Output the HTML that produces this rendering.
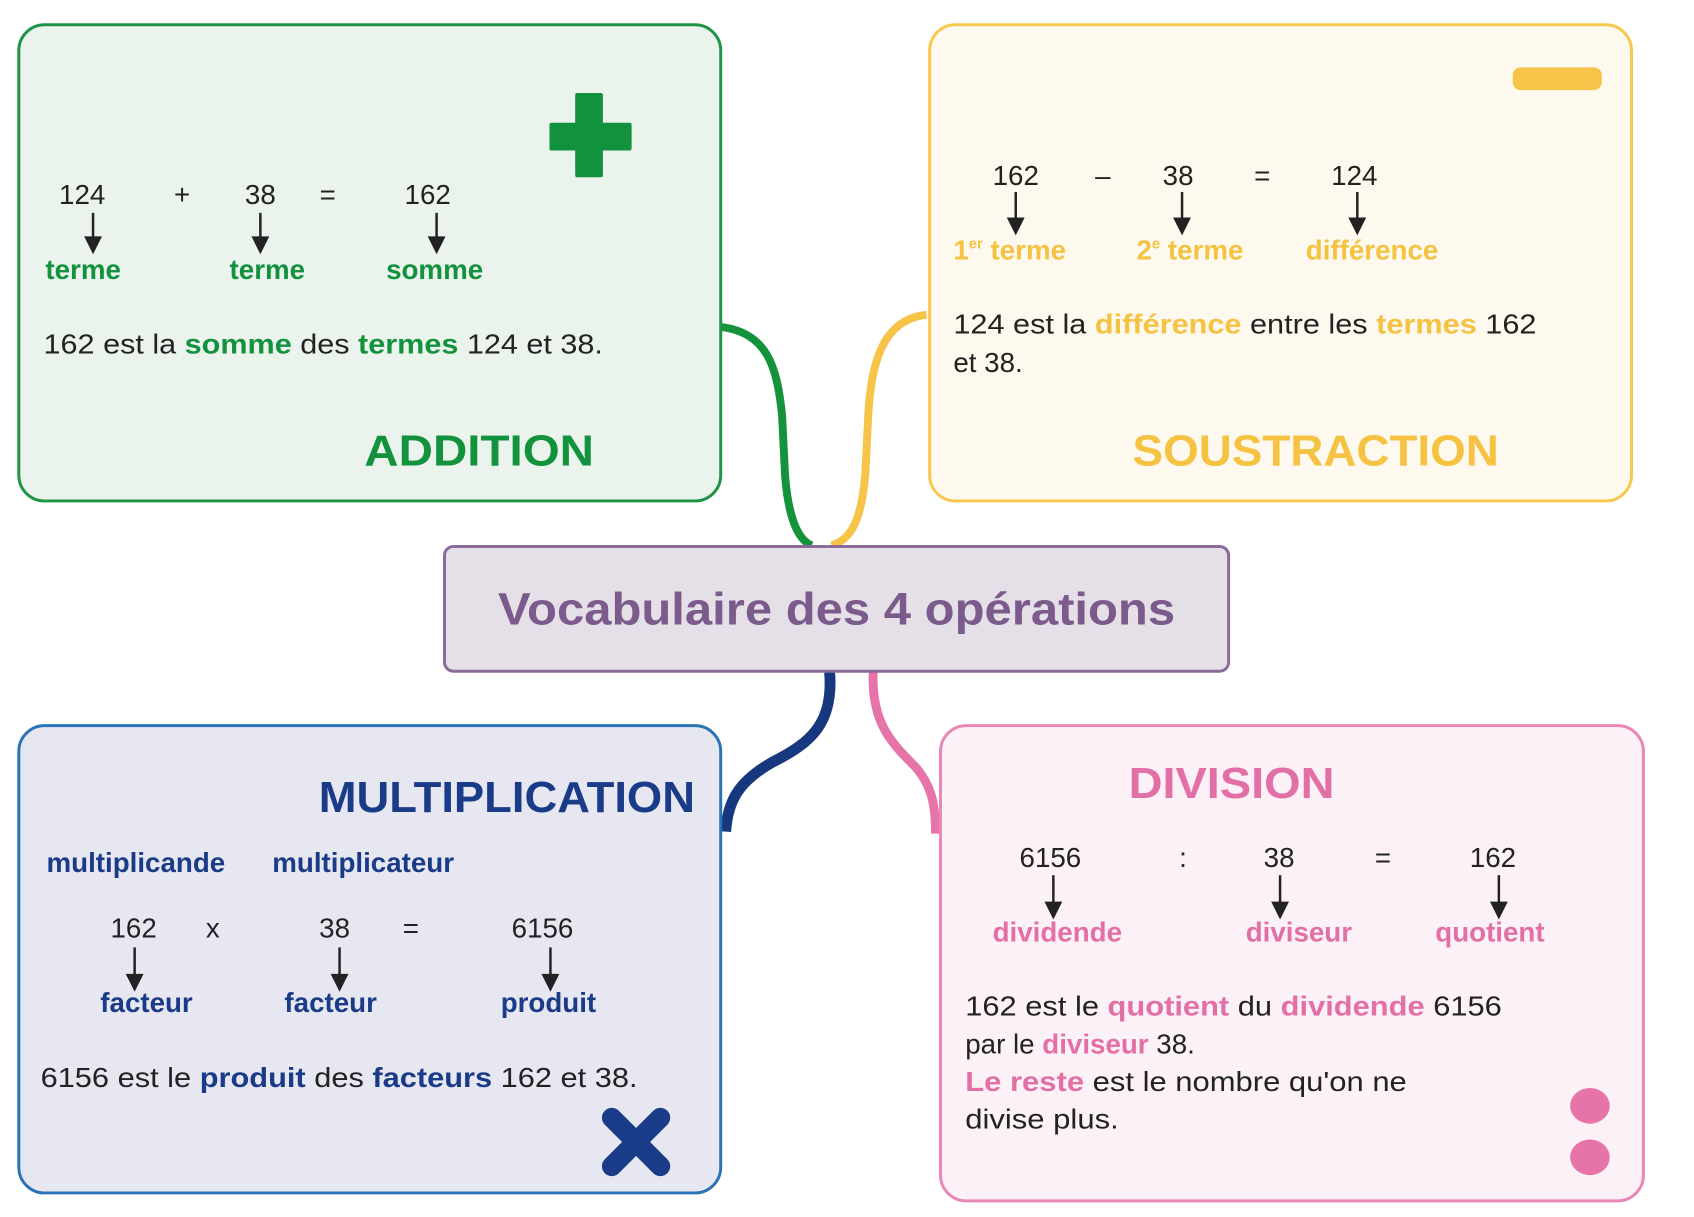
<!DOCTYPE html>
<html><head><meta charset="utf-8"><style>
html,body{margin:0;padding:0;background:#fff;}
svg{display:block;}
text{font-family:"Liberation Sans",sans-serif;}
.n{font-size:28px;fill:#222;}
.b{font-weight:bold;font-size:28px;}
.s{font-size:28px;fill:#222;}
</style></head><body>
<svg width="1694" height="1217" viewBox="0 0 1694 1217" xmlns="http://www.w3.org/2000/svg">
<g transform="scale(0.99)">
<!-- connectors -->
<path d="M726 330 C775 335 785 370 790 420 L793 480 C796 520 805 545 820 551" fill="none" stroke="#14923c" stroke-width="8"/>
<path d="M936 318 C895 322 880 360 877 420 L874 480 C870 525 860 545 840 551" fill="none" stroke="#f7c44a" stroke-width="8"/>
<path d="M838 679 C842 730 820 750 780 770 C745 790 735 810 733 840" fill="none" stroke="#16387f" stroke-width="11"/>
<path d="M882 679 C880 730 900 750 925 775 C942 795 945 815 945 842" fill="none" stroke="#e774a9" stroke-width="9"/>

<!-- boxes -->
<rect x="19" y="25" width="709" height="481" rx="26" fill="#eaf3ec" stroke="#1e9444" stroke-width="3"/>
<rect x="939" y="25" width="709" height="481" rx="26" fill="#fdf9ee" stroke="#f6c94e" stroke-width="3"/>
<rect x="19" y="733" width="709" height="472" rx="26" fill="#e6e7f1" stroke="#2a73b6" stroke-width="3"/>
<rect x="950" y="733" width="710" height="480" rx="26" fill="#fcf1f6" stroke="#e888b6" stroke-width="3"/>
<rect x="449" y="552" width="792" height="126" rx="9" fill="#e5e0e8" stroke="#8b6b9a" stroke-width="3"/>
<text x="845" y="631" text-anchor="middle" font-size="46" font-weight="bold" fill="#7b5a8c" textLength="684" lengthAdjust="spacingAndGlyphs">Vocabulaire des 4 opérations</text>

<!-- ADDITION -->
<path d="M583 96 h24 v30 h29 v24 h-29 v27 h-24 v-27 h-26 v-24 h26z" fill="#13923e" stroke="#13923e" stroke-width="4" stroke-linejoin="round"/>
<g class="n" text-anchor="middle">
<text x="83" y="206">124</text><text x="184" y="206">+</text><text x="263" y="206">38</text><text x="331" y="206">=</text><text x="432" y="206">162</text>
</g>
<g stroke="#222" stroke-width="2.5" fill="#222">
<line x1="94" y1="215" x2="94" y2="244"/><path d="M87 240 L94 254 L101 240z"/>
<line x1="263" y1="215" x2="263" y2="244"/><path d="M256 240 L263 254 L270 240z"/>
<line x1="441" y1="215" x2="441" y2="244"/><path d="M434 240 L441 254 L448 240z"/>
</g>
<g class="b" fill="#13923e" text-anchor="middle">
<text x="84" y="282">terme</text><text x="270" y="282">terme</text><text x="439" y="282">somme</text>
</g>
<text class="s" x="44" y="357" textLength="565" lengthAdjust="spacingAndGlyphs">162 est la <tspan fill="#13923e" font-weight="bold">somme</tspan> des <tspan fill="#13923e" font-weight="bold">termes</tspan> 124 et 38.</text>
<text x="484" y="470" text-anchor="middle" font-size="44" font-weight="bold" fill="#13923e" textLength="232" lengthAdjust="spacingAndGlyphs">ADDITION</text>

<!-- SOUSTRACTION -->
<rect x="1528" y="68" width="90" height="23" rx="8" fill="#f7c44a"/>
<g class="n" text-anchor="middle">
<text x="1026" y="187">162</text><text x="1114" y="187">–</text><text x="1190" y="187">38</text><text x="1275" y="187">=</text><text x="1368" y="187">124</text>
</g>
<g stroke="#222" stroke-width="2.5" fill="#222">
<line x1="1026" y1="194" x2="1026" y2="225"/><path d="M1019 221 L1026 235 L1033 221z"/>
<line x1="1194" y1="194" x2="1194" y2="225"/><path d="M1187 221 L1194 235 L1201 221z"/>
<line x1="1371" y1="194" x2="1371" y2="225"/><path d="M1364 221 L1371 235 L1378 221z"/>
</g>
<g class="b" fill="#f5c242">
<text x="963" y="262">1<tspan font-size="15" dy="-11">er</tspan><tspan dy="11"> terme</tspan></text>
<text x="1148" y="262">2<tspan font-size="15" dy="-11">e</tspan><tspan dy="11"> terme</tspan></text>
<text x="1319" y="262">différence</text>
</g>
<text class="s" x="963" y="337" textLength="589" lengthAdjust="spacingAndGlyphs">124 est la <tspan fill="#f5c242" font-weight="bold">différence</tspan> entre les <tspan fill="#f5c242" font-weight="bold">termes</tspan> 162</text>
<text class="s" x="963" y="376">et 38.</text>
<text x="1329" y="470" text-anchor="middle" font-size="44" font-weight="bold" fill="#f5c242" textLength="370" lengthAdjust="spacingAndGlyphs">SOUSTRACTION</text>

<!-- MULTIPLICATION -->
<text x="702" y="820" text-anchor="end" font-size="44" font-weight="bold" fill="#1a3b87" textLength="380" lengthAdjust="spacingAndGlyphs">MULTIPLICATION</text>
<g class="b" fill="#1a3b87">
<text x="47" y="881">multiplicande</text><text x="275" y="881">multiplicateur</text>
</g>
<g class="n" text-anchor="middle">
<text x="135" y="947">162</text><text x="215" y="947">x</text><text x="338" y="947">38</text><text x="415" y="947">=</text><text x="548" y="947">6156</text>
</g>
<g stroke="#222" stroke-width="2.5" fill="#222">
<line x1="136" y1="957" x2="136" y2="989"/><path d="M129 985 L136 999 L143 985z"/>
<line x1="343" y1="957" x2="343" y2="989"/><path d="M336 985 L343 999 L350 985z"/>
<line x1="556" y1="957" x2="556" y2="989"/><path d="M549 985 L556 999 L563 985z"/>
</g>
<g class="b" fill="#1a3b87" text-anchor="middle">
<text x="148" y="1022">facteur</text><text x="334" y="1022">facteur</text><text x="554" y="1022">produit</text>
</g>
<text class="s" x="41" y="1098" textLength="603" lengthAdjust="spacingAndGlyphs">6156 est le <tspan fill="#1a3b87" font-weight="bold">produit</tspan> des <tspan fill="#1a3b87" font-weight="bold">facteurs</tspan> 162 et 38.</text>
<g stroke="#1a3b87" stroke-width="20" stroke-linecap="round">
<line x1="618" y1="1129" x2="667" y2="1178"/><line x1="667" y1="1129" x2="618" y2="1178"/>
</g>

<!-- DIVISION -->
<text x="1244" y="806" text-anchor="middle" font-size="44" font-weight="bold" fill="#e36fa7" textLength="208" lengthAdjust="spacingAndGlyphs">DIVISION</text>
<g class="n" text-anchor="middle">
<text x="1061" y="876">6156</text><text x="1195" y="876">:</text><text x="1292" y="876">38</text><text x="1397" y="876">=</text><text x="1508" y="876">162</text>
</g>
<g stroke="#222" stroke-width="2.5" fill="#222">
<line x1="1064" y1="884" x2="1064" y2="916"/><path d="M1057 912 L1064 926 L1071 912z"/>
<line x1="1293" y1="884" x2="1293" y2="916"/><path d="M1286 912 L1293 926 L1300 912z"/>
<line x1="1514" y1="884" x2="1514" y2="916"/><path d="M1507 912 L1514 926 L1521 912z"/>
</g>
<g class="b" fill="#e36fa7" text-anchor="middle">
<text x="1068" y="951">dividende</text><text x="1312" y="951">diviseur</text><text x="1505" y="951">quotient</text>
</g>
<text class="s" x="975" y="1026" textLength="542" lengthAdjust="spacingAndGlyphs">162 est le <tspan fill="#e36fa7" font-weight="bold">quotient</tspan> du <tspan fill="#e36fa7" font-weight="bold">dividende</tspan> 6156</text>
<text class="s" x="975" y="1064">par le <tspan fill="#e36fa7" font-weight="bold">diviseur</tspan> 38.</text>
<text class="s" x="975" y="1102" textLength="446" lengthAdjust="spacingAndGlyphs"><tspan fill="#e36fa7" font-weight="bold">Le reste</tspan> est le nombre qu'on ne</text>
<text class="s" x="975" y="1140" textLength="155" lengthAdjust="spacingAndGlyphs">divise plus.</text>
<ellipse cx="1606" cy="1117" rx="20" ry="18" fill="#e774a9"/>
<ellipse cx="1606" cy="1169" rx="20" ry="18" fill="#e774a9"/>
</g>
</svg>
</body></html>
